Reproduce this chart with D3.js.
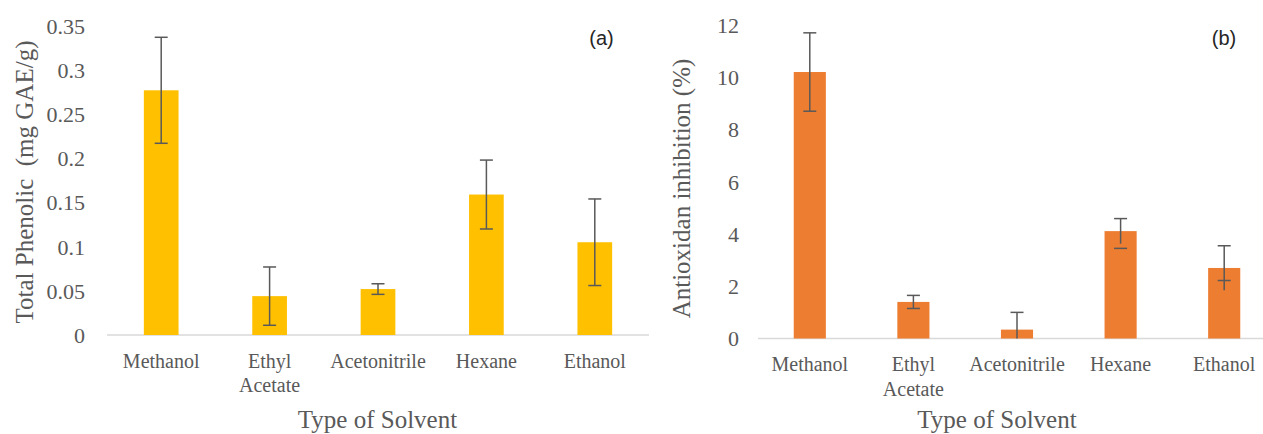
<!DOCTYPE html>
<html><head><meta charset="utf-8">
<script src="https://cdn.jsdelivr.net/npm/d3@7"></script>
<style>
html,body{margin:0;padding:0;background:#fff;overflow:hidden;}
svg{display:block;}
</style></head>
<body>
<svg id="c" width="1263" height="434"></svg>
<script>
const categories = ["Methanol", "Ethyl Acetate", "Acetonitrile", "Hexane", "Ethanol"];
const phenolicValues = [0.277, 0.044, 0.052, 0.159, 0.105];
const phenolicErrors = [0.060, 0.033, 0.006, 0.039, 0.049];
const phenolicTicks = [0, 0.05, 0.1, 0.15, 0.2, 0.25, 0.3, 0.35];
const phenolicTickLabels = ["0", "0.05", "0.1", "0.15", "0.2", "0.25", "0.3", "0.35"];
const antioxValues = [10.2, 1.40, 0.34, 4.11, 2.70];
const antioxErrors = [1.50, 0.25, 0.66, 0.48, 0.85];
const antioxTicks = [0, 2, 4, 6, 8, 10, 12];
const antioxTickLabels = ["0", "2", "4", "6", "8", "10", "12"];

const svg = d3.select("#c");
const serif = "'Liberation Serif','Times New Roman',serif";
const textCol = "#595959";

function panel(o) {
  const g = svg.append("g");
  const x = d3.scaleBand().domain(categories).range([o.x0, o.x1]).paddingInner(o.pad).paddingOuter(o.pad / 2);
  const y = d3.scaleLinear().domain([0, o.max]).range([o.y0, o.y1]);

  // x axis line
  g.append("line").attr("x1", o.x0).attr("x2", o.x1).attr("y1", y(0)).attr("y2", y(0))
    .attr("stroke", "#d9d9d9").attr("stroke-width", 1.3);

  // y tick labels
  const yAxis = d3.axisLeft(y).tickValues(o.ticks).tickFormat((d, i) => o.tickLabels[i]).tickSize(0).tickPadding(0);
  const ya = g.append("g").attr("transform", `translate(${o.tickX},0)`).call(yAxis)
    .attr("font-family", serif).attr("font-size", 22);
  ya.select(".domain").remove();
  ya.selectAll("text").style("font-family", serif).style("font-size", "22px").attr("fill", textCol).attr("dy", "0.34em");

  // bars
  g.selectAll("rect.bar").data(o.values).join("rect").attr("class", "bar")
    .attr("x", (d, i) => x(categories[i])).attr("width", x.bandwidth())
    .attr("y", d => y(d)).attr("height", d => y(0) - y(d))
    .attr("fill", o.color);

  // error bars
  const cap = 6.5;
  const eb = g.selectAll("g.err").data(o.values).join("g").attr("class", "err")
    .attr("transform", (d, i) => `translate(${x(categories[i]) + x.bandwidth() / 2},0)`);
  eb.append("line").attr("y1", (d, i) => y(d + o.errors[i])).attr("y2", (d, i) => y(Math.max(0, d - o.errors[i])))
    .attr("stroke", "#595959").attr("stroke-width", 1.5);
  eb.append("line").attr("x1", -cap).attr("x2", cap).attr("y1", (d, i) => y(d + o.errors[i])).attr("y2", (d, i) => y(d + o.errors[i]))
    .attr("stroke", "#595959").attr("stroke-width", 1.5);
  eb.filter((d, i) => d - o.errors[i] > 0).append("line").attr("x1", -cap).attr("x2", cap)
    .attr("y1", (d, i) => y(d - o.errors[i])).attr("y2", (d, i) => y(d - o.errors[i]))
    .attr("stroke", "#595959").attr("stroke-width", 1.5);

  // category labels
  categories.forEach((c, i) => {
    const cx = x(c) + x.bandwidth() / 2;
    const parts = c === "Ethyl Acetate" ? ["Ethyl", "Acetate"] : [c];
    parts.forEach((p, j) => {
      g.append("text").attr("x", cx).attr("y", o.catY + j * 24.5).attr("text-anchor", "middle")
        .attr("font-family", serif).attr("font-size", 20).attr("fill", textCol).text(p);
    });
  });

  // x title
  g.append("text").attr("x", o.xTitleX).attr("y", o.xTitleY).attr("text-anchor", "middle")
    .attr("font-family", serif).attr("font-size", 25).attr("fill", textCol).text("Type of Solvent");
  // y title
  g.append("text").attr("transform", `translate(${o.yTitleX},${o.yTitleY}) rotate(-90)`).attr("text-anchor", "middle")
    .attr("font-family", serif).attr("font-size", 25).attr("fill", textCol).attr("xml:space", "preserve").style("white-space", "pre").text(o.yTitle);
  // panel label
  g.append("text").attr("x", o.labX).attr("y", o.labY).attr("text-anchor", "middle")
    .attr("font-family", "'Liberation Sans','Open Sans',sans-serif").attr("font-size", 20).attr("fill", "#262626").text(o.label);
}

panel({
  x0: 107, x1: 649, y0: 335, y1: 25.8, max: 0.35, pad: 0.68,
  values: phenolicValues, errors: phenolicErrors, ticks: phenolicTicks, tickLabels: phenolicTickLabels,
  color: "#FFC000", tickX: 85, catY: 367.5, xTitleX: 377.5, xTitleY: 428,
  yTitleX: 33, yTitleY: 182, yTitle: "Total Phenolic  (mg GAE/g)", label: "(a)", labX: 601.5, labY: 45
});
panel({
  x0: 758, x1: 1276, y0: 338.5, y1: 25, max: 12, pad: 0.69,
  values: antioxValues, errors: antioxErrors, ticks: antioxTicks, tickLabels: antioxTickLabels,
  color: "#ED7D31", tickX: 739, catY: 371, xTitleX: 997, xTitleY: 428,
  yTitleX: 690, yTitleY: 188.5, yTitle: "Antioxidan inhibition (%)", label: "(b)", labX: 1224, labY: 45
});
</script>
</body></html>
